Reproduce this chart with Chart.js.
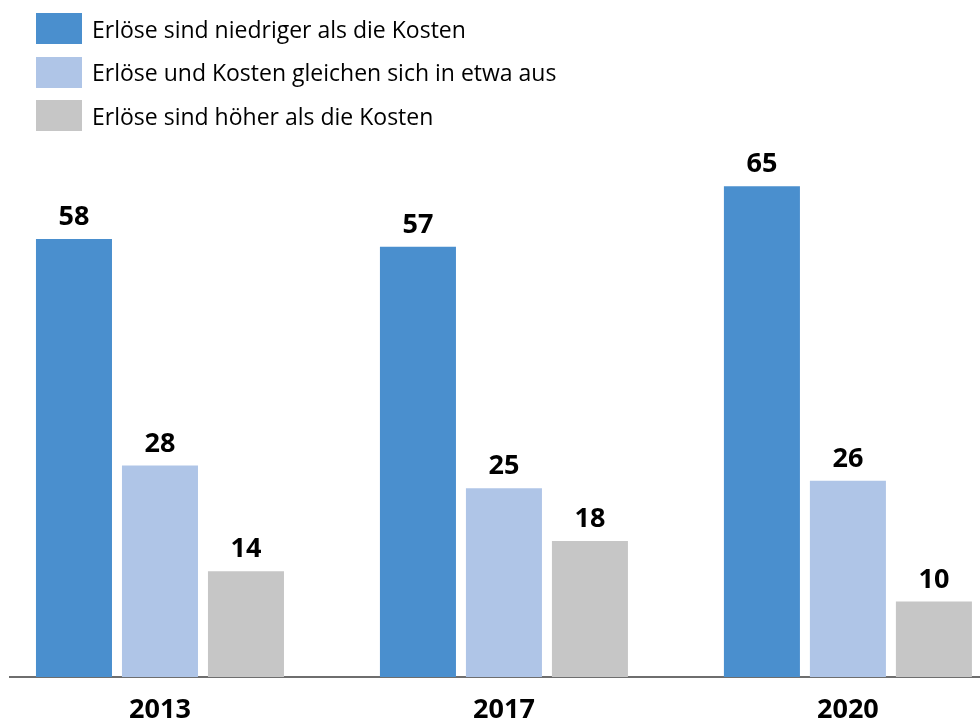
<!DOCTYPE html>
<html>
<head>
<meta charset="utf-8">
<script src="https://cdn.jsdelivr.net/npm/chart.js@4"></script>
<style>
  body { margin: 0; background: #fff; }
  #wrap { position: relative; width: 980px; height: 720px; }
  #legend { position: absolute; left: 36px; top: 13px; font-family: "Open Sans", sans-serif; font-size: 23px; color: #000; }
  .item { display: flex; align-items: center; height: 31px; margin-bottom: 12.5px; }
  .box { width: 46px; height: 31px; margin-right: 10px; }
</style>
</head>
<body>
<div id="wrap">
  <canvas id="Chart"></canvas>
  <div id="legend"></div>
</div>
<script>
const years = ["2013", "2017", "2020"];
const seriesNames = [
  "Erlöse sind niedriger als die Kosten",
  "Erlöse und Kosten gleichen sich in etwa aus",
  "Erlöse sind höher als die Kosten",
];
const niedriger = [58, 57, 65];
const gleich = [28, 25, 26];
const hoeher = [14, 18, 10];
const farben = ["#4a8fce", "#afc5e7", "#c6c6c6"];

const toPoints = (values) => values.map((v, i) => ({ x: i, y: v }));

const datasets = [niedriger, gleich, hoeher].map((values, i) => ({
  label: seriesNames[i],
  data: toPoints(values),
  backgroundColor: farben[i],
  categoryPercentage: 0.75,
  barPercentage: 0.884,
}));

// legende i html
const legend = document.getElementById("legend");
seriesNames.forEach((name, i) => {
  legend.innerHTML +=
    '<div class="item"><div class="box" style="background:' + farben[i] + '"></div><span>' + name + "</span></div>";
});

// verdier over søylene
const valueLabels = {
  id: "valueLabels",
  afterDatasetsDraw(chart) {
    const ctx = chart.ctx;
    ctx.save();
    ctx.font = "bold 27px 'Open Sans'";
    ctx.fillStyle = "#000";
    ctx.textAlign = "center";
    ctx.textBaseline = "alphabetic";
    chart.data.datasets.forEach((ds, i) => {
      chart.getDatasetMeta(i).data.forEach((bar, j) => {
        ctx.fillText(ds.data[j].y, bar.x, bar.y - 14);
      });
    });
    ctx.restore();
  },
};

const ctx = document.getElementById("Chart").getContext("2d");
new Chart(ctx, {
  type: "bar",
  data: { datasets: datasets },
  plugins: [valueLabels],
  options: {
    responsive: true,
    maintainAspectRatio: false,
    animation: false,
    layout: { padding: { top: 148.5, left: 10, right: 0, bottom: 0 } },
    plugins: { legend: { display: false }, tooltip: { enabled: false } },
    scales: {
      x: {
        type: "linear",
        offset: false,
        min: -0.436,
        max: 2.384,
        afterBuildTicks: (scale) => {
          scale.ticks = years.map((y, i) => ({ value: i }));
        },
        afterFit: (scale) => {
          scale.height = 43;
        },
        grid: { display: false, drawTicks: false, offset: false },
        border: { display: true, color: "#6e6e6e", width: 2 },
        ticks: {
          padding: 17,
          color: "#000",
          font: { family: "Open Sans", size: 27, weight: "bold" },
          callback: (value) => years[value],
        },
      },
      y: {
        display: false,
        min: 0,
        max: 70,
      },
    },
  },
});
</script>
</body>
</html>
